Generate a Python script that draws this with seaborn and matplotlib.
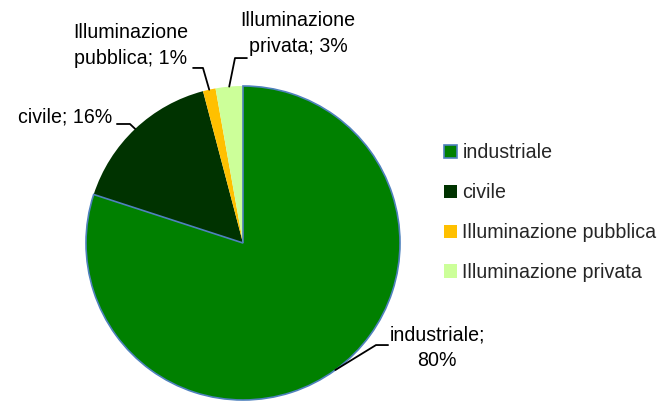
import numpy as np
import matplotlib
matplotlib.use('Agg')
import matplotlib.pyplot as plt
import seaborn as sns

# dati
categorie = ['industriale', 'civile', 'Illuminazione pubblica', 'Illuminazione privata']
valori = [80.0, 15.9, 1.3, 2.8]
etichette = ['industriale;\n80%', 'civile; 16%', 'Illuminazione\npubblica; 1%', 'Illuminazione\nprivata; 3%']
colori = ['#008000', '#003300', '#FFC000', '#CCFF99']

sns.set_theme(style='white')
plt.rcParams['font.family'] = ['Liberation Sans', 'DejaVu Sans']
FS = 14.1

fig = plt.figure(figsize=(6.58, 4.01), dpi=100)
ax = fig.add_axes([0, 0, 1, 1])

wedges, _ = ax.pie(valori, colors=colori, startangle=90, counterclock=False,
                   radius=1.0, wedgeprops=dict(linewidth=0))
wedges[0].set_edgecolor('#4F81BD')
wedges[0].set_linewidth(1.2)
wedges[0].set_zorder(5)

# scala: 157 px per unita, centro a (243, 243) px
ax.set_xlim(-243 / 157, (658 - 243) / 157)
ax.set_ylim(-(401 - 243) / 157, 243 / 157)
ax.set_aspect('equal', adjustable='box')
ax.axis('off')

# posizioni etichette: (gomito, fine orizzontale, testo, allineamento)
layout = [
    ((0.847, -0.650), (0.924, -0.650), (1.236, -0.665), 'center'),
    ((-0.720, 0.758), (-0.803, 0.758), (-0.834, 0.803), 'right'),
    ((-0.255, 1.115), (-0.318, 1.115), (-0.713, 1.260), 'center'),
    ((-0.051, 1.178), (0.025, 1.178), (0.350, 1.335), 'center'),
]

for w, lab, (elb, fine, txt, ha) in zip(wedges, etichette, layout):
    ang = np.radians((w.theta1 + w.theta2) / 2)
    p0 = (np.cos(ang), np.sin(ang))
    ax.plot([p0[0], elb[0], fine[0]], [p0[1], elb[1], fine[1]],
            color='black', lw=1.3, clip_on=False, zorder=6)
    ax.text(txt[0], txt[1], lab, ha=ha, va='center', fontsize=FS,
            multialignment='center', linespacing=1.45, color='black')

leg = ax.legend(wedges, categorie, loc='center left',
                bbox_to_anchor=(444 / 658, (401 - 212.5) / 401),
                bbox_transform=fig.transFigure, frameon=False, fontsize=FS,
                handlelength=0.66, handleheight=0.66, handletextpad=0.28,
                labelspacing=1.07, borderpad=0, borderaxespad=0)

fig.savefig('out.png', dpi=100)
